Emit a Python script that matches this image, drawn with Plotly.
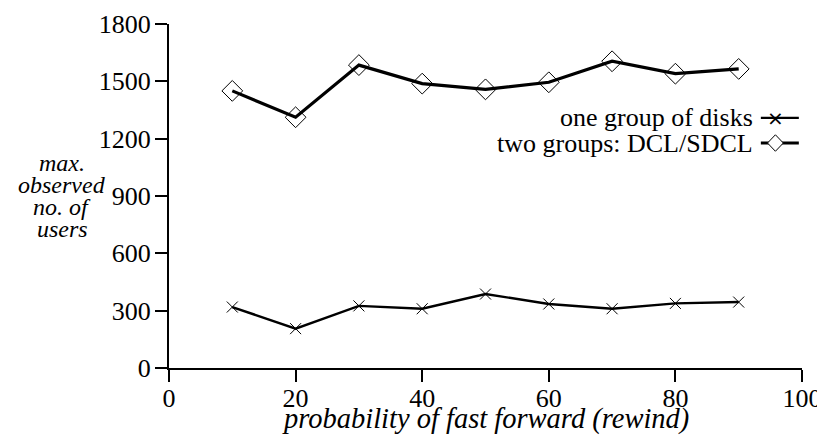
import plotly.graph_objects as go

x_vals = [10, 20, 30, 40, 50, 60, 70, 80, 90]
one_group = [319, 206, 325, 310, 387, 335, 310, 338, 345]
two_groups = [1450, 1312, 1585, 1488, 1458, 1495, 1605, 1540, 1565]
series_names = ["one group of disks", "two groups: DCL/SDCL"]
x_ticks = [0, 20, 40, 60, 80, 100]
y_ticks = [0, 300, 600, 900, 1200, 1500, 1800]
y_title_lines = ["max.", "observed", "no. of", "users"]

FONT = "Liberation Serif"
fig = go.Figure()
fig.add_trace(go.Scatter(
    x=x_vals, y=two_groups, mode="lines+markers", name=series_names[1],
    line=dict(color="black", width=3.2),
    marker=dict(symbol="diamond-open", size=16, color="black", line=dict(width=1)),
    showlegend=False, cliponaxis=False))
fig.add_trace(go.Scatter(
    x=x_vals, y=one_group, mode="lines+markers", name=series_names[0],
    line=dict(color="black", width=2.4),
    marker=dict(symbol="x-thin-open", size=11, color="black", line=dict(width=1, color="black")),
    showlegend=False, cliponaxis=False))

axis_common = dict(showgrid=False, zeroline=False, showline=True, linecolor="black",
                   linewidth=2, ticks="outside", ticklen=12, tickwidth=2, tickcolor="black",
                   automargin=False,
                   tickfont=dict(family=FONT, size=26, color="black"))
fig.update_xaxes(range=[0, 100], tickvals=x_ticks, ticklabelstandoff=-6, **axis_common)
fig.update_yaxes(range=[0, 1800], tickvals=y_ticks, ticklabelstandoff=-1, **axis_common)

# axis titles
fig.add_annotation(xref="paper", yref="paper", x=0.5, y=-0.149, yanchor="middle",
                   text="<i>probability of fast forward (rewind)</i>", showarrow=False,
                   font=dict(family=FONT, size=28.5, color="black"))
y_line_pos = [0.596, 0.532, 0.468, 0.405]
for txt, yy in zip(y_title_lines, y_line_pos):
    fig.add_annotation(xref="paper", yref="paper", x=-0.169, y=yy, xanchor="center", yanchor="middle",
                       text=f"<i>{txt}</i>", showarrow=False,
                       font=dict(family=FONT, size=24, color="black"))

# manual legend (text left of symbol)
leg_y = [0.727, 0.654]
for i, (name, yy) in enumerate(zip(series_names, leg_y)):
    fig.add_annotation(xref="paper", yref="paper", x=0.925, y=yy, xanchor="right",
                       yanchor="middle", text=name, showarrow=False,
                       font=dict(family=FONT, size=26, color="black"))
    fig.add_shape(type="line", xref="paper", yref="paper", x0=0.935, x1=0.995,
                  y0=yy, y1=yy, line=dict(color="black", width=2.4 if i == 0 else 3.2))
# legend symbols
cx = 0.958
fig.add_annotation(xref="paper", yref="paper", x=cx, y=leg_y[0], xanchor="center", yanchor="middle",
                   text="×", showarrow=False, font=dict(family="DejaVu Sans", size=20, color="black"))
dx, dy = 0.0125, 0.024
fig.add_shape(type="path", xref="paper", yref="paper",
              path=f"M {cx-dx},{leg_y[1]} L {cx},{leg_y[1]+dy} L {cx+dx},{leg_y[1]} L {cx},{leg_y[1]-dy} Z",
              fillcolor="white", line=dict(color="black", width=1))

# page body has an 8px default margin; compensate so the plot area lands where the reference has it
fig.update_layout(width=817, height=430, margin=dict(l=161, r=23, t=16, b=70, autoexpand=False),
                  plot_bgcolor="white", paper_bgcolor="white")
fig.write_html("out.html")
